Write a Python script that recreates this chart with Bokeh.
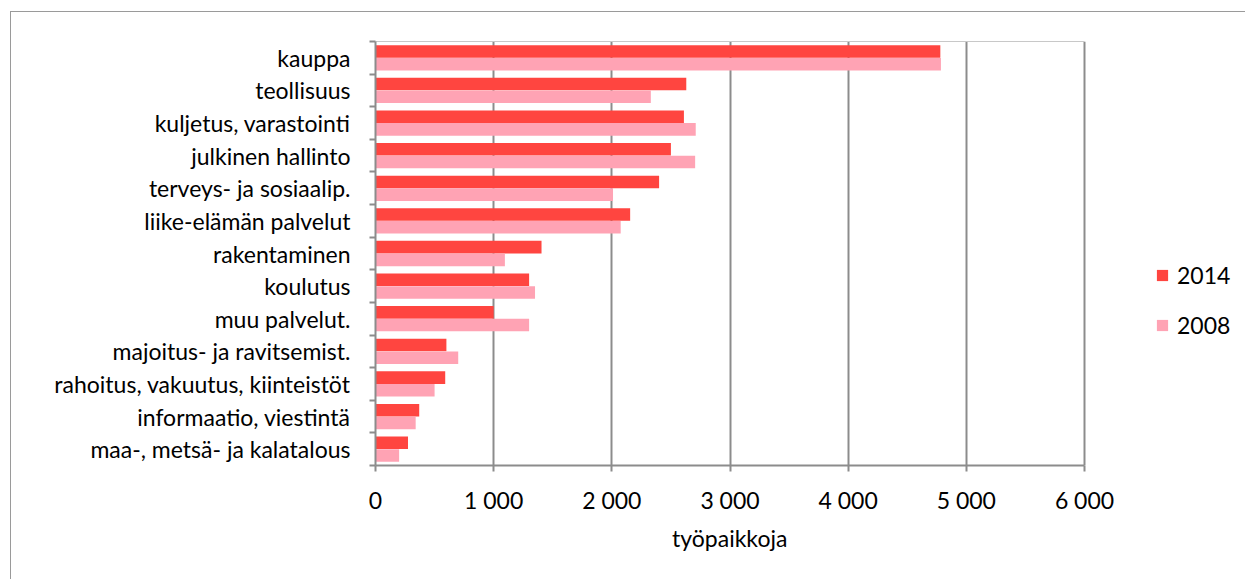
import numpy as np
from bokeh.plotting import figure
from bokeh.models import (Range1d, FixedTicker, Legend, LegendItem, ColumnDataSource,
                          LinearAxis, Title)
from bokeh.embed import file_html
from bokeh.resources import INLINE

categories = ["kauppa", "teollisuus", "kuljetus, varastointi", "julkinen hallinto",
              "terveys- ja sosiaalip.", "liike-elämän palvelut", "rakentaminen",
              "koulutus", "muu palvelut.", "majoitus- ja ravitsemist.",
              "rahoitus, vakuutus, kiinteistöt", "informaatio, viestintä",
              "maa-, metsä- ja kalatalous"]
v2014 = [4780, 2630, 2610, 2500, 2400, 2155, 1405, 1300, 1000, 600, 590, 370, 275]
v2008 = [4785, 2330, 2710, 2705, 2010, 2075, 1095, 1350, 1300, 700, 500, 340, 200]
series_names = ["2014", "2008"]
x_ticks = [0, 1000, 2000, 3000, 4000, 5000, 6000]
x_tick_labels = ["0", "1 000", "2 000", "3 000", "4 000", "5 000", "6 000"]
x_title = "työpaikkoja"

FONT = "Lato"
FS = "23px"
TXT = "#000000"
GRID = "#8c8c8c"
C14 = "#FF4540"
C08 = "#FFA3B4"

# layout (pixels)
W, H = 1235, 568
LEFT, TOP, BOTTOM = 364, 29, 115
GRID_W = 709                      # width of the 0..6000 value span
FRAME_W = W - LEFT
X_MAX = x_ticks[-1]
X_END = X_MAX * FRAME_W / GRID_W  # frame extends right to hold the legend
TITLE_W = 116                     # approx. rendered width of the x title

n = len(categories)
pos = np.arange(n)[::-1].astype(float)  # top category at highest value
src = ColumnDataSource(dict(pos14=pos + 0.195, pos08=pos - 0.195,
                            v14=v2014, v08=v2008))

p = figure(width=W, height=H, output_backend="svg", toolbar_location=None,
           x_range=Range1d(0, X_END), y_range=Range1d(-0.5, n - 0.5),
           min_border_left=LEFT, min_border_top=TOP, min_border_bottom=BOTTOM,
           min_border_right=0)
p.styles = {"border-left": "1.5px solid #9a9a9a", "border-top": "1.5px solid #9a9a9a",
            "margin-left": "10px", "margin-top": "11px"}

r14 = p.hbar(y="pos14", right="v14", left=0, height=0.385, source=src,
             fill_color=C14, line_color=None)
r08 = p.hbar(y="pos08", right="v08", left=0, height=0.385, source=src,
             fill_color=C08, line_color=None)

p.outline_line_color = None
p.background_fill_color = "white"
p.border_fill_color = "white"

# grid
p.ygrid.visible = False
p.xgrid.ticker = FixedTicker(ticks=x_ticks)
p.xgrid.grid_line_color = GRID
p.xgrid.grid_line_width = 2

# x axis
xa = p.xaxis[0]
xa.bounds = (0, X_MAX)
xa.ticker = FixedTicker(ticks=x_ticks)
xa.major_label_overrides = {t: l for t, l in zip(x_ticks, x_tick_labels)}
xa.axis_line_color = GRID
xa.axis_line_width = 2
xa.major_tick_line_color = GRID
xa.major_tick_line_width = 2
xa.major_tick_out = 6
xa.major_tick_in = 0
xa.minor_tick_line_color = None
xa.major_label_text_font = FONT
xa.major_label_text_font_size = FS
xa.major_label_text_color = TXT
xa.major_label_standoff = 14

# x title below the axis, centred on the 0..6000 span
p.add_layout(Title(text=x_title, align="left", offset=(GRID_W - TITLE_W) / 2,
                   text_font=FONT, text_font_size=FS, text_font_style="normal",
                   text_color=TXT, standoff=11), "below")

# top frame line (light)
top = LinearAxis(bounds=(0, X_MAX), ticker=FixedTicker(ticks=[]),
                 axis_line_color="#c8c8c8", axis_line_width=1,
                 major_tick_line_color=None, minor_tick_line_color=None,
                 major_label_text_font_size="0px")
p.add_layout(top, "above")

# y axis
ya = p.yaxis[0]
boundaries = list(np.arange(n + 1) - 0.5)
ya.ticker = FixedTicker(ticks=list(range(n)), minor_ticks=boundaries)
ya.major_label_overrides = {int(pp): c for pp, c in zip(pos, categories)}
ya.axis_line_color = GRID
ya.axis_line_width = 2
ya.major_tick_line_color = None
ya.major_tick_out = 0
ya.major_tick_in = 0
ya.minor_tick_line_color = GRID
ya.minor_tick_line_width = 2
ya.minor_tick_out = 6
ya.minor_tick_in = 0
ya.major_label_text_font = FONT
ya.major_label_text_font_size = FS
ya.major_label_text_color = TXT
ya.major_label_standoff = 19

legend = Legend(items=[LegendItem(label=series_names[0], renderers=[r14]),
                       LegendItem(label=series_names[1], renderers=[r08])],
                location=(780, 126), orientation="vertical",
                border_line_color=None, background_fill_color=None,
                padding=0, margin=0, spacing=22, label_height=24,
                glyph_width=14, glyph_height=14, label_standoff=8,
                label_text_font=FONT, label_text_font_size=FS,
                label_text_color=TXT)
p.add_layout(legend, "center")

open("out.html", "w").write(file_html(p, INLINE))
